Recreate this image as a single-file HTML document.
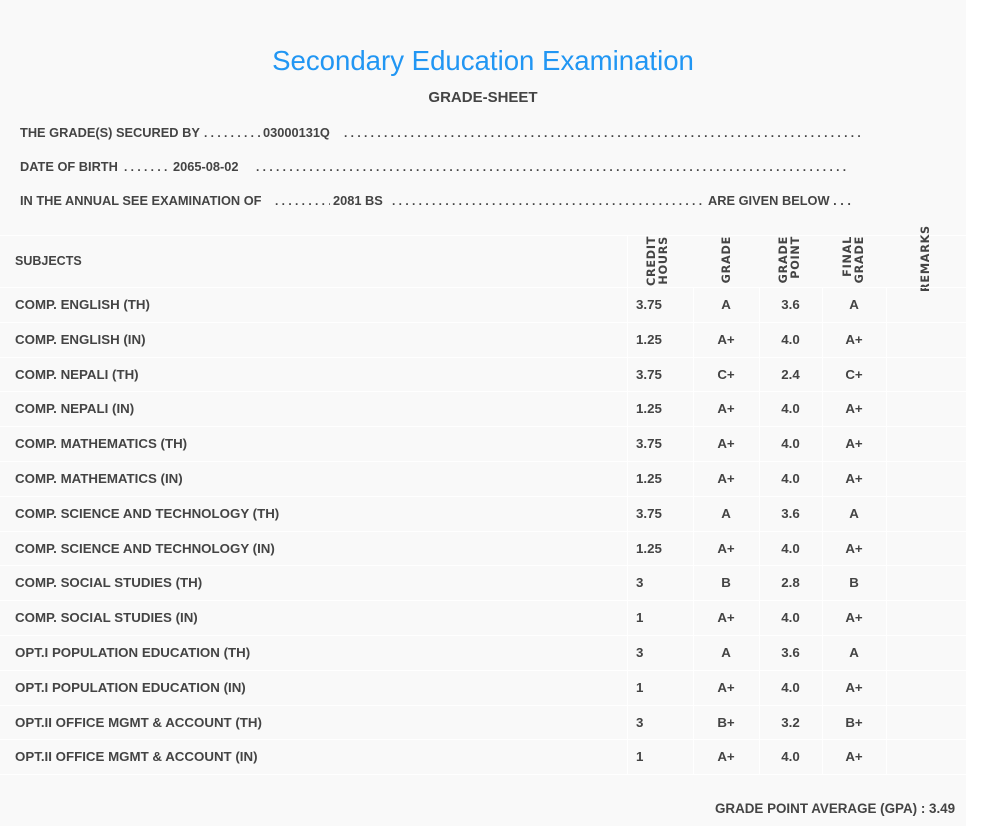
<!DOCTYPE html>
<html><head><meta charset="utf-8"><style>
*{margin:0;padding:0;box-sizing:border-box}
body{width:991px;height:826px;background:#fff;font-family:"Liberation Sans",sans-serif;color:#444;position:relative;overflow:hidden}
#pg{position:absolute;left:0;top:0;width:966px;height:826px;background:#f9f9f9}
.a{position:absolute;white-space:nowrap;font-weight:bold;font-size:13.3px}
.i{font-size:12.8px}
.d{position:absolute;white-space:nowrap;overflow:hidden;font-weight:bold;font-size:12px}
.hl{position:absolute;left:0;width:966px;height:1px;background:#fff}
.vl{position:absolute;width:1px;background:#fff}
.rot{position:absolute;font-family:"DejaVu Sans",sans-serif;font-weight:bold;font-size:11.3px;letter-spacing:0.7px;transform:rotate(-90deg);transform-origin:left top;white-space:nowrap;line-height:11.5px;text-align:right}
</style></head><body><div id="pg"></div>
<div class="a" style="left:0;width:966px;text-align:center;top:45px;font-size:27.6px;font-weight:normal;color:#2196f3;">Secondary Education Examination</div>
<div class="a" style="left:0;width:966px;text-align:center;top:89px;font-size:15px;">GRADE-SHEET</div>
<div class="a i" style="left:20px;top:125px">THE GRADE(S) SECURED BY</div>
<div class="d" style="left:204px;top:126px;width:56px">. . . . . . . . . .</div>
<div class="a i" style="left:263px;top:125px">03000131Q</div>
<div class="d" style="left:344px;top:126px;width:518px">. . . . . . . . . . . . . . . . . . . . . . . . . . . . . . . . . . . . . . . . . . . . . . . . . . . . . . . . . . . . . . . . . . . . . . . . . . . . . . . . . . . . . . . . . . . . . . . . . . . . .</div>
<div class="a i" style="left:20px;top:159px">DATE OF BIRTH</div>
<div class="d" style="left:124px;top:160px;width:46px">. . . . . . . . . .</div>
<div class="a i" style="left:173px;top:159px">2065-08-02</div>
<div class="d" style="left:256px;top:160px;width:594px">. . . . . . . . . . . . . . . . . . . . . . . . . . . . . . . . . . . . . . . . . . . . . . . . . . . . . . . . . . . . . . . . . . . . . . . . . . . . . . . . . . . . . . . . . . . . . . . . . . . . . . . . . . . . . . . . . . . . . . . . . . . . .</div>
<div class="a i" style="left:20px;top:193px">IN THE ANNUAL SEE EXAMINATION OF</div>
<div class="d" style="left:275px;top:194px;width:55px">. . . . . . . . . .</div>
<div class="a i" style="left:333px;top:193px">2081 BS</div>
<div class="d" style="left:392px;top:194px;width:314px">. . . . . . . . . . . . . . . . . . . . . . . . . . . . . . . . . . . . . . . . . . . . . . . . . . . . . . . . . . . .</div>
<div class="a i" style="left:708px;top:193px">ARE GIVEN BELOW . . .</div>

<div class="hl" style="top:235px"></div>
<div class="vl" style="left:627px;top:235px;height:540px"></div>
<div class="vl" style="left:693px;top:287px;height:488px"></div>
<div class="vl" style="left:759px;top:287px;height:488px"></div>
<div class="vl" style="left:822px;top:287px;height:488px"></div>
<div class="vl" style="left:886px;top:287px;height:488px"></div>
<div class="a" style="left:15px;top:254px;font-size:12.5px">SUBJECTS</div>
<div class="rot" style="left:646px;top:286px;width:50px">CREDIT<br>HOURS</div>
<div class="rot" style="left:721px;top:286px;width:50px">GRADE</div>
<div class="rot" style="left:778px;top:286px;width:50px">GRADE<br>POINT</div>
<div class="rot" style="left:842px;top:286px;width:50px">FINAL<br>GRADE</div>
<div class="rot" style="left:920px;top:292px;width:60px">REMARKS</div>
<div id="rows"></div>
<div class="a" style="left:715px;top:801px;font-size:13.4px">GRADE POINT AVERAGE (GPA) : 3.49</div>
<script>
var d=[["COMP. ENGLISH (TH)","3.75","A","3.6","A"],["COMP. ENGLISH (IN)","1.25","A+","4.0","A+"],["COMP. NEPALI (TH)","3.75","C+","2.4","C+"],["COMP. NEPALI (IN)","1.25","A+","4.0","A+"],["COMP. MATHEMATICS (TH)","3.75","A+","4.0","A+"],["COMP. MATHEMATICS (IN)","1.25","A+","4.0","A+"],["COMP. SCIENCE AND TECHNOLOGY (TH)","3.75","A","3.6","A"],["COMP. SCIENCE AND TECHNOLOGY (IN)","1.25","A+","4.0","A+"],["COMP. SOCIAL STUDIES (TH)","3","B","2.8","B"],["COMP. SOCIAL STUDIES (IN)","1","A+","4.0","A+"],["OPT.I POPULATION EDUCATION (TH)","3","A","3.6","A"],["OPT.I POPULATION EDUCATION (IN)","1","A+","4.0","A+"],["OPT.II OFFICE MGMT & ACCOUNT (TH)","3","B+","3.2","B+"],["OPT.II OFFICE MGMT & ACCOUNT (IN)","1","A+","4.0","A+"]];
var h="";for(var i=0;i<14;i++){var y=287+i*34.8;h+='<div class="hl" style="top:'+Math.round(y)+'px"></div>';var t=Math.round(y+10);var r=d[i];
h+='<div class="a" style="left:15px;top:'+t+'px">'+r[0].replace("&","&amp;")+'</div>';
h+='<div class="a" style="left:636px;top:'+t+'px">'+r[1]+'</div>';
[[693,759,r[2]],[759,822,r[3]],[822,886,r[4]]].forEach(function(c){h+='<div class="a" style="left:'+c[0]+'px;width:'+(c[1]-c[0])+'px;text-align:center;top:'+t+'px">'+c[2]+'</div>';});}
h+='<div class="hl" style="top:774px"></div>';
document.getElementById("rows").innerHTML=h;
</script>
</body></html>
